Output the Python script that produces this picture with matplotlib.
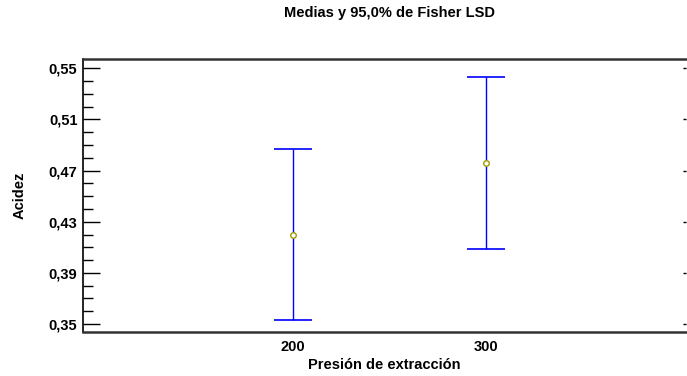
import numpy as np
import matplotlib
matplotlib.use("Agg")
import matplotlib.pyplot as plt
from matplotlib.ticker import MultipleLocator, FuncFormatter

plt.rcParams["font.family"] = ["Liberation Sans", "DejaVu Sans"]
plt.rcParams["font.weight"] = "bold"

# datos: medias e intervalos LSD al 95%
grupos = ["200", "300"]
medias = [0.4199, 0.4762]
inferior = [0.3529, 0.4089]
superior = [0.4869, 0.5432]

x = np.arange(1, len(grupos) + 1)
medias = np.array(medias)
err = np.vstack([medias - np.array(inferior), np.array(superior) - medias])

fig = plt.figure(figsize=(6.87, 3.76), dpi=100)
ax = fig.add_axes([83 / 687, 1 - 331.7 / 376, (686 - 83) / 687, (331.7 - 59.3) / 376])

ax.errorbar(x, medias, yerr=err, fmt="none", ecolor="blue", elinewidth=1.0,
            capsize=14, capthick=1.2)
ax.plot(x, medias, "o", ms=4, mfc="white", mec="#a09a00", mew=1.0, zorder=3)

ax.set_xlim(1 + (83 - 293) / 193, 1 + (686 - 293) / 193)
ax.set_ylim(0.344, 0.557)
ax.set_xticks(x)
ax.set_xticklabels(grupos)
ax.yaxis.set_major_locator(MultipleLocator(0.04))
ax.yaxis.set_minor_locator(MultipleLocator(0.01))
ax.yaxis.set_major_formatter(FuncFormatter(lambda v, p: f"{v:.2f}".replace(".", ",")))
ax.set_yticks(np.arange(0.35, 0.5501, 0.04))

ax.tick_params(axis="y", which="major", direction="in", length=12, width=1,
               labelsize=10.5, right=True, pad=4)
ax.tick_params(axis="y", which="minor", direction="in", length=7, width=1)
ax.tick_params(axis="x", length=0, labelsize=10.5, pad=6)
for t in ax.yaxis.get_major_ticks():
    t.tick2line.set_markersize(2)
    t.tick2line.set_color("#555555")

ax.spines["right"].set_visible(False)
ax.spines["left"].set_linewidth(1.2)
ax.spines["left"].set_color("black")
for s in ("top", "bottom"):
    ax.spines[s].set_linewidth(1.8)
    ax.spines[s].set_color("#333333")

ax.set_xlabel("Presión de extracción", fontsize=10.5, fontweight="bold", labelpad=3)
ax.set_ylabel("Acidez", fontsize=10.5, fontweight="bold", labelpad=16)
fig.text(390 / 687, 1 - 13 / 376, "Medias y 95,0% de Fisher LSD", ha="center",
         va="center", fontsize=10.5, fontweight="bold")

fig.savefig("out.png", dpi=100)
